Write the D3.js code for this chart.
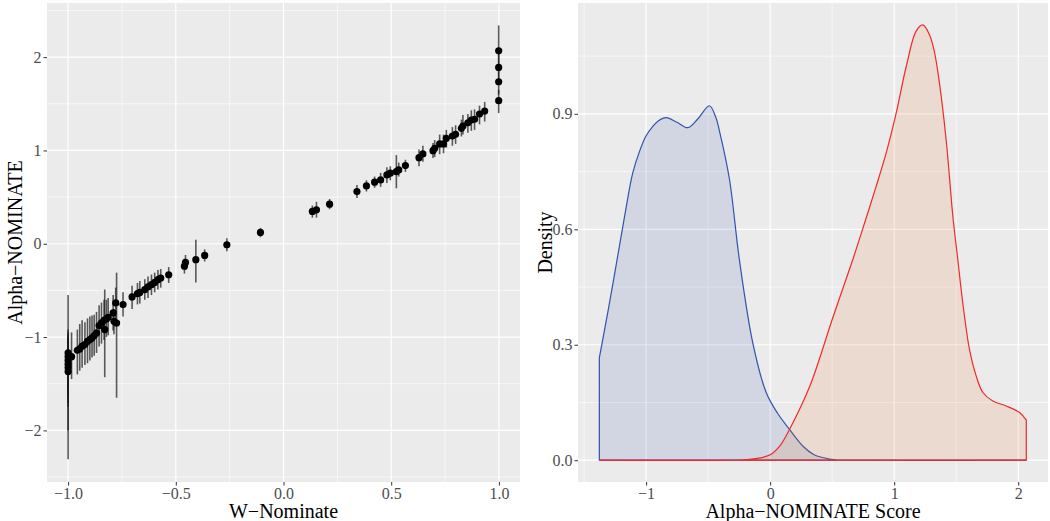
<!DOCTYPE html>
<html><head><meta charset="utf-8">
<script src="https://cdn.jsdelivr.net/npm/d3@7"></script>
<style>body{margin:0;background:#fff}svg{display:block}text{font-family:"Liberation Serif","Times New Roman",serif}</style>
</head><body><svg id="c" width="1050" height="521"></svg>
<script>
// ---- Left panel data: W-Nominate vs Alpha-NOMINATE with intervals ----
const wnom = [-1.0,-1.0,-1.0,-1.0,-1.0,-1.0,-0.984,-0.957,-0.946,-0.935,-0.922,-0.910,-0.899,-0.889,-0.879,-0.868,-0.856,-0.845,-0.833,-0.830,-0.822,-0.814,-0.791,-0.787,-0.779,-0.775,-0.745,-0.703,-0.678,-0.667,-0.644,-0.629,-0.613,-0.598,-0.583,-0.570,-0.533,-0.460,-0.455,-0.407,-0.366,-0.263,-0.107,0.134,0.153,0.214,0.341,0.385,0.423,0.451,0.480,0.496,0.524,0.535,0.566,0.629,0.647,0.694,0.702,0.725,0.743,0.756,0.784,0.799,0.826,0.833,0.856,0.872,0.887,0.910,0.934,0.999,0.999,0.999,0.999];
const alphaNom = [-1.17,-1.21,-1.25,-1.29,-1.33,-1.37,-1.21,-1.141,-1.127,-1.098,-1.080,-1.045,-1.027,-1.009,-0.984,-0.955,-0.877,-0.848,-0.820,-0.920,-0.806,-0.788,-0.741,-0.831,-0.634,-0.849,-0.652,-0.570,-0.535,-0.521,-0.492,-0.463,-0.438,-0.414,-0.385,-0.367,-0.332,-0.240,-0.200,-0.171,-0.125,-0.011,0.121,0.346,0.364,0.424,0.559,0.620,0.660,0.684,0.738,0.756,0.773,0.791,0.838,0.923,0.963,0.998,1.023,1.070,1.070,1.130,1.155,1.173,1.237,1.262,1.297,1.326,1.334,1.390,1.422,1.533,1.736,1.890,2.067];
const alphaLo = [-1.75,-1.55,-1.62,-1.70,-2.00,-2.31,-1.45,-1.40,-1.36,-1.33,-1.30,-1.28,-1.25,-1.22,-1.20,-1.17,-1.10,-1.07,-1.03,-1.43,-1.00,-0.98,-0.93,-0.97,-0.80,-1.65,-0.78,-0.70,-0.65,-0.64,-0.60,-0.58,-0.55,-0.52,-0.49,-0.47,-0.42,-0.32,-0.28,-0.414,-0.19,-0.08,0.07,0.28,0.28,0.37,0.49,0.56,0.60,0.61,0.65,0.68,0.595,0.72,0.77,0.83,0.88,0.92,0.93,0.96,0.97,1.03,1.05,1.07,1.15,1.17,1.19,1.21,1.22,1.28,1.31,1.40,1.60,1.75,1.90];
const alphaHi = [-0.55,-0.92,-0.95,-0.98,-1.00,-1.05,-0.95,-0.92,-0.86,-0.82,-0.84,-0.80,-0.78,-0.77,-0.76,-0.73,-0.66,-0.63,-0.60,-0.49,-0.60,-0.58,-0.55,-0.70,-0.47,-0.31,-0.52,-0.45,-0.42,-0.40,-0.38,-0.35,-0.33,-0.31,-0.28,-0.27,-0.25,-0.16,-0.12,0.043,-0.06,0.06,0.17,0.41,0.45,0.48,0.63,0.68,0.72,0.76,0.82,0.83,0.95,0.87,0.90,1.01,1.05,1.08,1.11,1.17,1.17,1.22,1.25,1.27,1.33,1.38,1.39,1.43,1.44,1.48,1.52,1.65,1.90,2.10,2.34];
const leftXTicks = [-1.0,-0.5,0.0,0.5,1.0];
const leftYTicks = [-2,-1,0,1,2];

// ---- Right panel data: density curves ----
const blueX = [-1.377,-1.30,-1.234,-1.17,-1.108,-1.05,-1.0,-0.947,-0.90,-0.839,-0.75,-0.664,-0.58,-0.49,-0.44,-0.409,-0.328,-0.248,-0.14,-0.032,0.06,0.156,0.263,0.35,0.424,0.53,0.70,2.067];
const blueY = [0.266,0.40,0.521,0.64,0.746,0.805,0.843,0.867,0.882,0.890,0.878,0.864,0.888,0.921,0.893,0.856,0.730,0.521,0.305,0.176,0.122,0.080,0.037,0.015,0.007,0.001,0,0];
const redX = [-1.377,-0.30,-0.167,-0.08,0.0,0.08,0.156,0.317,0.505,0.666,0.76,0.854,0.935,1.016,1.097,1.177,1.231,1.285,1.325,1.365,1.419,1.473,1.513,1.553,1.607,1.661,1.715,1.795,1.903,2.011,2.065];
const redY = [0,0,0.002,0.006,0.014,0.038,0.080,0.190,0.370,0.521,0.615,0.711,0.798,0.902,1.023,1.115,1.131,1.105,1.060,0.980,0.832,0.634,0.521,0.409,0.288,0.219,0.176,0.154,0.141,0.124,0.104];
const rightXTicks = [-1,0,1,2];
const rightYTicks = [0.0,0.3,0.6,0.9];

const svg = d3.select("#c");
const bg = "#EBEBEB", tickCol = "#4D4D4D";

function panel(x0,x1,y0,y1,xs,ys,xMajor,xMinor,yMajor,yMinor,xfmt,yfmt){
  const g = svg.append("g");
  g.append("rect").attr("x",x0).attr("y",y0).attr("width",x1-x0).attr("height",y1-y0).attr("fill",bg);
  xMinor.forEach(v=>g.append("line").attr("x1",xs(v)).attr("x2",xs(v)).attr("y1",y0).attr("y2",y1).attr("stroke","#fff").attr("stroke-width",0.6));
  yMinor.forEach(v=>g.append("line").attr("y1",ys(v)).attr("y2",ys(v)).attr("x1",x0).attr("x2",x1).attr("stroke","#fff").attr("stroke-width",0.6));
  xMajor.forEach(v=>g.append("line").attr("x1",xs(v)).attr("x2",xs(v)).attr("y1",y0).attr("y2",y1).attr("stroke","#fff").attr("stroke-width",1.2));
  yMajor.forEach(v=>g.append("line").attr("y1",ys(v)).attr("y2",ys(v)).attr("x1",x0).attr("x2",x1).attr("stroke","#fff").attr("stroke-width",1.2));
  const ax = svg.append("g").attr("transform",`translate(0,${y1})`).call(d3.axisBottom(xs).tickValues(xMajor).tickFormat(xfmt).tickSize(3.5).tickPadding(2));
  const ay = svg.append("g").attr("transform",`translate(${x0},0)`).call(d3.axisLeft(ys).tickValues(yMajor).tickFormat(yfmt).tickSize(3.5).tickPadding(2));
  [ax,ay].forEach(a=>{a.select(".domain").remove();a.selectAll(".tick line").attr("stroke","#333").attr("stroke-width",1);
    a.selectAll(".tick text").attr("fill",tickCol).style("font-size","16px").style("font-family",'"Liberation Serif",serif');});
  return g;
}
const minus = s=>s.replace("-","\u2212");

// Left panel
const Lx0=47,Lx1=520,Ly0=3,Ly1=482;
const lxs = d3.scaleLinear().domain([-1.098,1.098]).range([Lx0,Lx1]);
const lys = d3.scaleLinear().domain([-2.553,2.58]).range([Ly1,Ly0]);
const gl = panel(Lx0,Lx1,Ly0,Ly1,lxs,lys,leftXTicks,[-0.75,-0.25,0.25,0.75],leftYTicks,[-2.5,-1.5,-0.5,0.5,1.5,2.5],
  d=>minus(d3.format(".1f")(d)), d=>minus(d3.format("d")(d)));
wnom.forEach((w,i)=>{
  gl.append("line").attr("x1",lxs(w)).attr("x2",lxs(w)).attr("y1",lys(alphaLo[i])).attr("y2",lys(alphaHi[i]))
    .attr("stroke","#1a1a1a").attr("stroke-opacity",0.7).attr("stroke-width",1.6);
});
wnom.forEach((w,i)=>{
  gl.append("circle").attr("cx",lxs(w)).attr("cy",lys(alphaNom[i])).attr("r",3.6).attr("fill","#000");
});
svg.append("text").attr("x",(Lx0+Lx1)/2).attr("y",518).attr("text-anchor","middle").style("font-size","20px").text("W\u2212Nominate");
svg.append("text").attr("transform",`translate(22,${(Ly0+Ly1)/2}) rotate(-90)`).attr("text-anchor","middle").style("font-size","20px").text("Alpha\u2212NOMINATE");

// Right panel
const Rx0=578,Rx1=1048,Ry0=3,Ry1=482;
const rxs = d3.scaleLinear().domain([-1.549,2.24]).range([Rx0,Rx1]);
const rys = d3.scaleLinear().domain([-0.0566,1.188]).range([Ry1,Ry0]);
const gr = panel(Rx0,Rx1,Ry0,Ry1,rxs,rys,rightXTicks,[-1.5,-0.5,0.5,1.5],rightYTicks,[0.15,0.45,0.75,1.05],
  d=>minus(d3.format("d")(d)), d=>d3.format(".1f")(d));
const area = d3.area().x(d=>rxs(d[0])).y0(rys(0)).y1(d=>rys(Math.max(0,d[1]))).curve(d3.curveCatmullRom.alpha(0.5));
const bluePts = blueX.map((x,i)=>[x,blueY[i]]);
const redPts = redX.map((x,i)=>[x,redY[i]]);
gr.append("path").attr("d",area(bluePts)+"Z").attr("fill","rgb(50,80,170)").attr("fill-opacity",0.13)
  .attr("stroke","#3253ab").attr("stroke-width",1.2);
gr.append("path").attr("d",area(redPts)+"Z").attr("fill","rgb(230,120,50)").attr("fill-opacity",0.15)
  .attr("stroke","#ee2a2a").attr("stroke-width",1.2);
svg.append("text").attr("x",(Rx0+Rx1)/2).attr("y",518).attr("text-anchor","middle").style("font-size","20px").text("Alpha\u2212NOMINATE Score");
svg.append("text").attr("transform",`translate(552,${(Ry0+Ry1)/2}) rotate(-90)`).attr("text-anchor","middle").style("font-size","20px").text("Density");
</script></body></html>
